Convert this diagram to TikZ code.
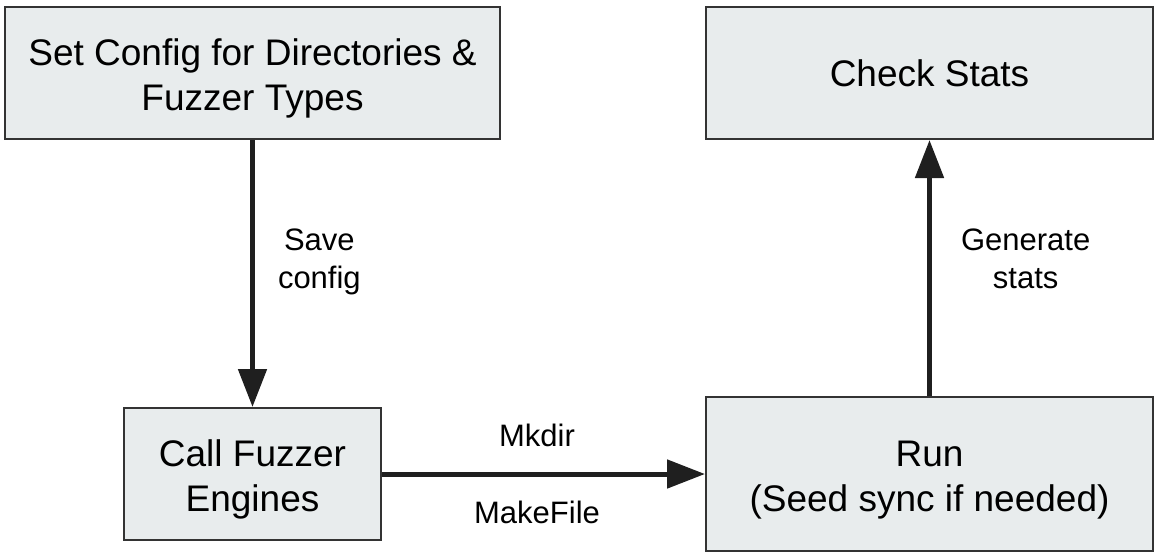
\documentclass[tikz,border=0pt]{standalone}
\usepackage{fontspec}
\setmainfont{Liberation Sans}
\usetikzlibrary{arrows.meta,positioning}
\definecolor{boxfill}{HTML}{E8ECED}
\definecolor{boxline}{HTML}{333333}
\definecolor{arrowcol}{HTML}{1F1F1F}
\newcommand{\boxgap}{\rule{0pt}{37pt}}
\tikzstyle{block} = [rectangle, draw=boxline, fill=boxfill, line width=2pt,
align=center, inner sep=0pt, minimum height=132pt, font=\fontsize{37}{45}\selectfont]
\tikzstyle{line} = [draw=arrowcol, line width=5pt, -{Triangle[length=38pt,width=28pt]}]
\tikzstyle{tag} = [font=\fontsize{31}{38}\selectfont, align=center, inner sep=0pt]

\begin{document}
\begin{tikzpicture}[node distance=401pt]
\useasboundingbox (0,0) rectangle (1161pt,-558pt);
% Place nodes
\node [block, minimum width=495pt] (cfg) at (252.5pt,-73pt) {\boxgap Set Config for Directories \&\\Fuzzer Types};
\node [block, minimum width=447pt, right of=cfg, node distance=677pt] (stats) {Check Stats};
\node [block, minimum width=257pt, below of=cfg] (engines) {\boxgap Call Fuzzer\\Engines};
\node [block, minimum width=447pt, minimum height=154pt, below of=stats] (run) {\boxgap Run\\(Seed sync if needed)};

% Draw edges
\path [line] (cfg) -- node [tag, right=23pt, pos=0.457] {Save\\config} (engines);
\path [line] (engines) -- node [tag, above=25pt, pos=0.48] {Mkdir}
  node [tag, below=25pt, pos=0.48] {MakeFile} (run);
\path [line] (run) -- node [tag, right=29pt, pos=0.535] {Generate\\stats} (stats);
\end{tikzpicture}
\end{document}
